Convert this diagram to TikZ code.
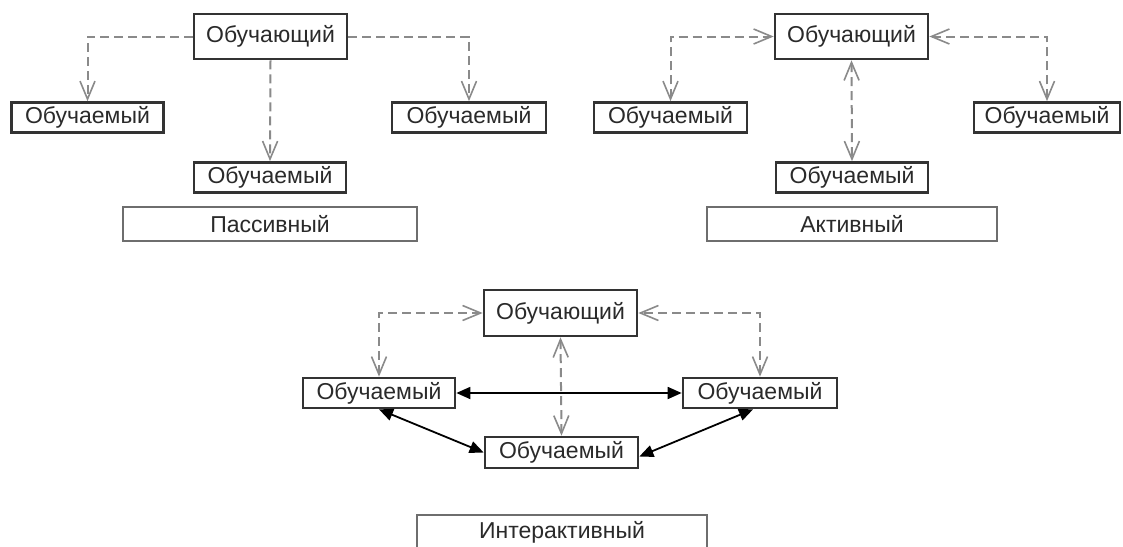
\documentclass[tikz,border=0pt]{standalone}
\usepackage{fontspec}
\setmainfont{Liberation Sans}
\usetikzlibrary{arrows.meta}
\definecolor{frame}{HTML}{333333}
\definecolor{ink}{HTML}{2A2A2A}
\definecolor{link}{HTML}{8A8A8A}
\definecolor{capframe}{HTML}{6E6E6E}
\tikzset{
  actor/.style={draw=frame, line width=2.7pt, fill=white, text=ink,
    font=\fontsize{23}{26}\selectfont, inner sep=0pt,
    minimum width=152pt, minimum height=30pt},
  tutor/.style={actor, minimum width=153pt, minimum height=45pt},
  caption/.style={draw=capframe, line width=1.1pt, fill=white, text=ink,
    font=\fontsize{23}{26}\selectfont, inner sep=0pt,
    minimum width=290pt, minimum height=34pt},
  barb/.tip={Straight Barb[length=18pt, width=15pt, line width=1.6pt]},
  guide/.style={draw=link, line width=2pt, dash pattern=on 9pt off 5pt,
    arrows={-barb}},
  guide2/.style={guide, arrows={barb-barb}},
  talk/.style={draw=black, line width=1.8pt,
    arrows={Triangle[length=14pt, width=12pt]-Triangle[length=14pt, width=12pt]}}
}
\begin{document}
\begin{tikzpicture}[x=1pt, y=-1pt]
  \clip (0,0) rectangle (1123,546);
  \fill[white] (0,0) rectangle (1123,546);

  % Passive model
  \node[tutor] (T1) at (270.5,36.5) {Обучающий};
  \node[actor] (L1) at (87.5,117.5) {Обучаемый};
  \node[actor, minimum width=154pt] (R1) at (469,117.5) {Обучаемый};
  \node[actor] (C1) at (270,177.5) {Обучаемый};
  \node[caption, minimum width=294pt] (P) at (270,224) {Пассивный};
  \draw[guide] (T1.west) -| (L1.north);
  \draw[guide] (T1.east) -| (R1.north);
  \draw[guide] (T1.south) -- (C1.north);

  % Active model
  \node[tutor] (T2) at (851.5,36.5) {Обучающий};
  \node[actor, minimum width=153pt] (L2) at (670.5,117.5) {Обучаемый};
  \node[actor, minimum width=146pt] (R2) at (1047,117.5) {Обучаемый};
  \node[actor] (C2) at (852,177.5) {Обучаемый};
  \node[caption] (A) at (852,224) {Активный};
  \draw[guide2] (L2.north) |- (T2.west);
  \draw[guide2] (R2.north) |- (T2.east);
  \draw[guide2] (T2.south) -- (C2.north);

  % Interactive model
  \node[tutor, minimum height=46pt] (T3) at (560.5,313) {Обучающий};
  \node[actor] (L3) at (379,393) {Обучаемый};
  \node[actor, minimum width=154pt] (R3) at (760,393) {Обучаемый};
  \node[actor, minimum width=153pt, minimum height=31pt] (C3) at (561.5,452.5) {Обучаемый};
  \node[caption] (I) at (562,532) {Интерактивный};
  \draw[guide2] (L3.north) |- (T3.west);
  \draw[guide2] (R3.north) |- (T3.east);
  \draw[guide2] (T3.south) -- (C3.north);
  \draw[talk] (L3.east) -- (R3.west);
  \draw[talk] (L3.south) -- (C3.west);
  \draw[talk] ([xshift=-7pt]R3.south) -- ([yshift=-4pt]C3.east);
\end{tikzpicture}
\end{document}
